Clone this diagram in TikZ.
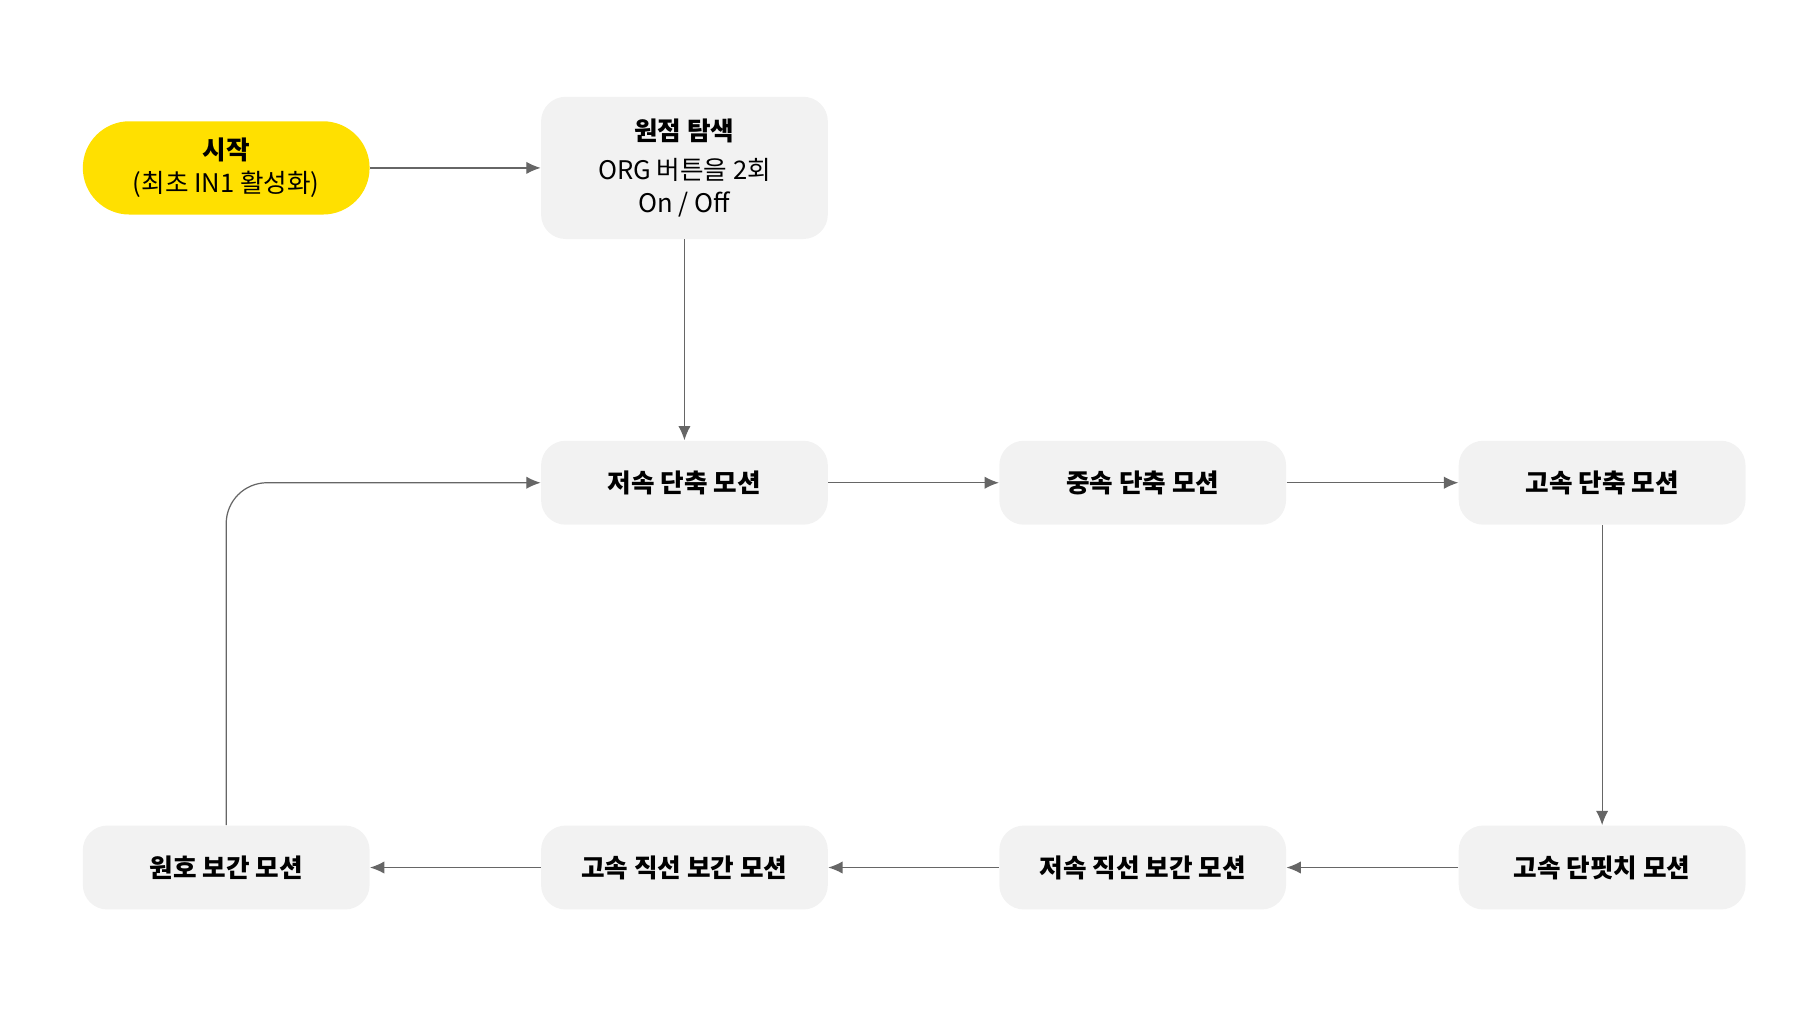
\documentclass[tikz,border=0pt]{standalone}
\usepackage{fontspec}
\setmainfont{Noto Sans CJK KR}
\usetikzlibrary{arrows.meta,positioning}
\definecolor{boxgray}{HTML}{F2F2F2}
\definecolor{startyellow}{HTML}{FFE000}
\definecolor{linegray}{HTML}{666666}
\tikzset{
  motion/.style={draw=none,fill=boxgray,rounded corners=12pt,minimum width=4.92cm,minimum height=1.44cm,align=center,font=\fontsize{12.5}{16}\selectfont\bfseries},
  flow/.style={draw=linegray,line width=0.6pt,-{Latex[length=7pt,width=6pt]}}
}
\begin{document}
\begin{tikzpicture}[x=0.02cm,y=-0.02cm]
\useasboundingbox (0,0) rectangle (1560,878);
\node[motion,fill=startyellow,rounded corners=0.8cm,minimum height=1.6cm,font=\fontsize{12.5}{16}\selectfont] (start) at (194,144) {\textbf{시작}\\(최초 IN1 활성화)};
\node[motion,minimum height=2.44cm,font=\fontsize{12.5}{16}\selectfont] (org) at (587,144) {\textbf{원점 탐색}\\[3pt]ORG 버튼을 2회\\On / Off};
\node[motion] (low) at (587,414) {저속 단축 모션};
\node[motion] (mid) at (980,414) {중속 단축 모션};
\node[motion] (high) at (1374,414) {고속 단축 모션};
\node[motion] (pitch) at (1374,744) {고속 단핏치 모션};
\node[motion] (linlow) at (980,744) {저속 직선 보간 모션};
\node[motion] (linhigh) at (587,744) {고속 직선 보간 모션};
\node[motion] (arc) at (194,744) {원호 보간 모션};
\draw[flow] (start) -- (org);
\draw[flow] (org) -- (low);
\draw[flow] (low) -- (mid);
\draw[flow] (mid) -- (high);
\draw[flow] (high) -- (pitch);
\draw[flow] (pitch) -- (linlow);
\draw[flow] (linlow) -- (linhigh);
\draw[flow] (linhigh) -- (arc);
\draw[flow,rounded corners=0.7cm] (arc.north) |- (low.west);
\end{tikzpicture}
\end{document}
